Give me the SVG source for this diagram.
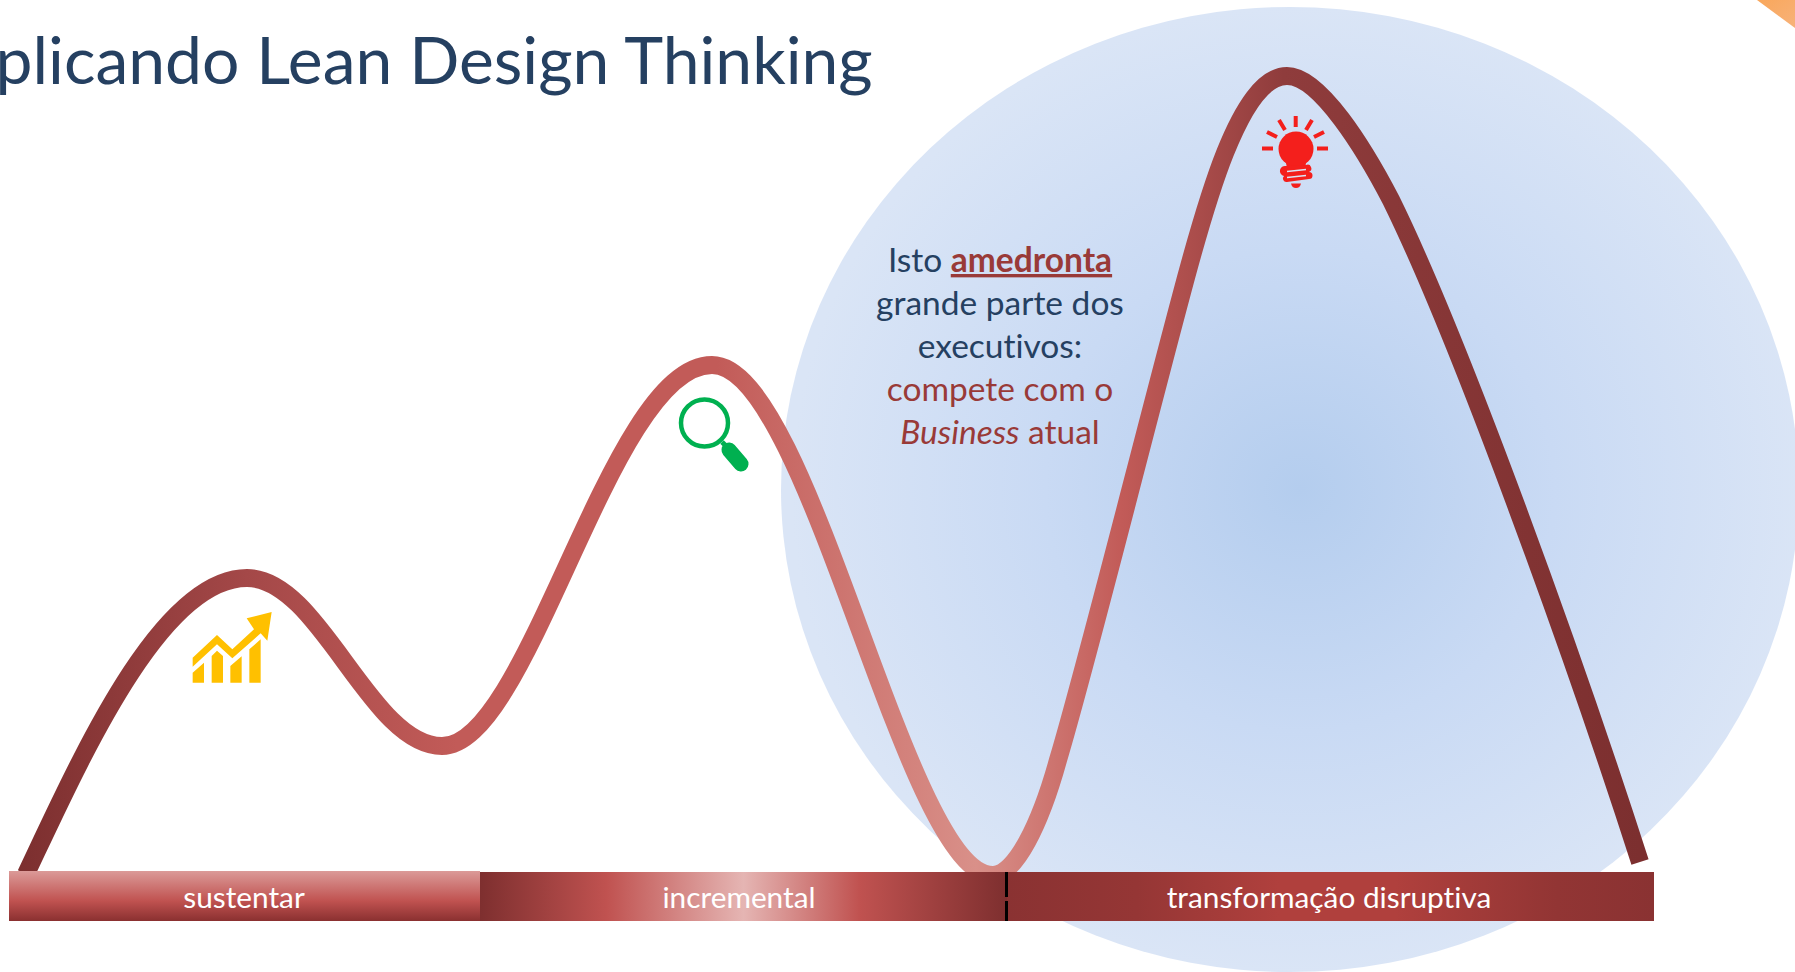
<svg xmlns="http://www.w3.org/2000/svg" width="1795" height="972" viewBox="0 0 1795 972">
<style>
text{font-family:"Lato","Open Sans","Liberation Sans",sans-serif;font-variant-ligatures:none}
.t{fill:#254061}
.b{font-size:33.5px;text-anchor:middle}
.r{fill:#993a38}
.l{font-size:29.8px;fill:#fff;text-anchor:middle}
.bulb{stroke:#f41f1c;stroke-width:4;fill:none}
</style>
<defs>
<radialGradient id="glow" gradientUnits="userSpaceOnUse" cx="0" cy="0" r="1" gradientTransform="translate(1300 490) scale(509 483)">
<stop offset="0" stop-color="#b4cdee"/><stop offset="0.5" stop-color="#c9daf4"/><stop offset="1" stop-color="#dae5f6"/>
</radialGradient>
<linearGradient id="curve" gradientUnits="userSpaceOnUse" x1="20" y1="0" x2="1640" y2="0">
<stop offset="0" stop-color="#7c2f2f"/>
<stop offset="0.14" stop-color="#a44848"/>
<stop offset="0.27" stop-color="#c25b58"/>
<stop offset="0.43" stop-color="#c25b58"/>
<stop offset="0.59" stop-color="#d99089"/>
<stop offset="0.68" stop-color="#c25b58"/>
<stop offset="0.78" stop-color="#8f3c3c"/>
<stop offset="1" stop-color="#7c2f2f"/>
</linearGradient>
<linearGradient id="b1" x1="0" y1="0" x2="0" y2="1">
<stop offset="0" stop-color="#db9a98"/><stop offset="0.6" stop-color="#c05250"/><stop offset="1" stop-color="#8a3030"/>
</linearGradient>
<linearGradient id="b2" x1="0" y1="0" x2="1" y2="0">
<stop offset="0" stop-color="#7e2f2f"/><stop offset="0.24" stop-color="#c05250"/><stop offset="0.5" stop-color="#e5b5b3"/><stop offset="0.72" stop-color="#c05250"/><stop offset="1" stop-color="#7e2f2f"/>
</linearGradient>
<linearGradient id="b3" x1="0" y1="0" x2="1" y2="0">
<stop offset="0" stop-color="#8a3232"/><stop offset="0.2" stop-color="#953635"/><stop offset="0.42" stop-color="#b0403d"/><stop offset="0.6" stop-color="#b0403d"/><stop offset="0.85" stop-color="#923534"/><stop offset="1" stop-color="#8a3232"/>
</linearGradient>
<linearGradient id="o" x1="0" y1="0" x2="1" y2="1"><stop offset="0" stop-color="#f9a75b"/><stop offset="1" stop-color="#f7b27a"/></linearGradient>
</defs>
<rect width="1795" height="972" fill="#fff"/>
<g id="backdrop-circle"><ellipse cx="1290" cy="489.500" rx="509" ry="482.500" fill="url(#glow)"/></g>
<path id="corner" d="M1757 0H1795V28Z" fill="url(#o)"/>
<text id="title" class="t" x="-4.500" y="84" font-size="66">plicando Lean Design Thinking</text>
<g id="connectors">
<path fill="none" stroke="url(#curve)" stroke-width="18" d="M26 874C80 760 160 578 247 578C320 578 370 746 442 746C530 746 610 365 712 365C810 365 905 875 993 875C1015 875 1040 825 1058 760C1085 670 1140 450 1180 300C1205 205 1240 76 1287 76C1320 76 1365 150 1391 200C1460 340 1575 660 1640 862"/>
</g>
<g id="bar-sustentar"><rect x="9" y="871" width="471" height="50" fill="url(#b1)"/><text class="l" x="244" y="908">sustentar</text></g>
<g id="bar-incremental"><rect x="480" y="872" width="527" height="49" fill="url(#b2)"/><text class="l" x="739" y="908">incremental</text></g>
<g id="bar-transformacao"><rect x="1007" y="872" width="647" height="49" fill="url(#b3)"/><text class="l" x="1329" y="908">transformação disruptiva</text></g>
<path id="divider" d="M1006.500 872V897M1006.500 901V921" stroke="#000" stroke-width="3"/>
<g id="note">
<text class="b t" x="1000" y="272">Isto <tspan class="r" font-weight="700" text-decoration="underline">amedronta</tspan></text>
<text class="b t" x="1000" y="315">grande parte dos</text>
<text class="b t" x="1000" y="358">executivos:</text>
<text class="b r" x="1000" y="401">compete com o</text>
<text class="b r" x="1000" y="444"><tspan font-style="italic">Business</tspan> atual</text>
</g>
<g id="icon-chart" transform="translate(170 590) scale(.33333)" fill="#ffc000">
<path d="M68 203L141 135L187 178L252 118L230 85L305 66L292 152L272 130L187 205L141 163L68 230Z"/>
<path d="M68 248L102 218V278H68ZM125 198L141 182L159 198V278H125ZM181 228L215 199V278H181ZM238 178L272 148V278H238Z"/>
</g>
<g id="icon-search">
<circle cx="704.500" cy="423" r="23.500" fill="none" stroke="#00b050" stroke-width="4.500"/>
<path d="M722 442L727 447" stroke="#00b050" stroke-width="5"/>
<path d="M729 450L741 464" stroke="#00b050" stroke-width="15" stroke-linecap="round"/>
</g>
<g id="icon-bulb">
<circle cx="1296" cy="149" r="17.500" fill="#f41f1c"/>
<path d="M1285 158L1307 158L1305 168H1287Z" fill="#f41f1c"/>
<path d="M1286 166L1306 165a3.500 3.500 0 0 1 3 7a3.500 3.500 0 0 1 0 7L1287 182a3.500 3.500 0 0 1-3-6a3.500 3.500 0 0 1 2-10Z" fill="#f41f1c"/>
<path d="M1287 171.500L1306 169.500M1287 177.500L1306 175.500" stroke="#dbe4f5" stroke-width="1.300"/>
<path d="M1291 183.500H1301Q1300 188 1296 188Q1292 188 1291 183.500Z" fill="#f41f1c"/>
<path class="bulb" d="M1295.700 116V127M1279 120L1285 130M1312 120L1306 130M1267 132L1277 137M1324 132L1314 137M1262 148.500H1273M1317 148.500H1328"/>
</g>
</svg>
